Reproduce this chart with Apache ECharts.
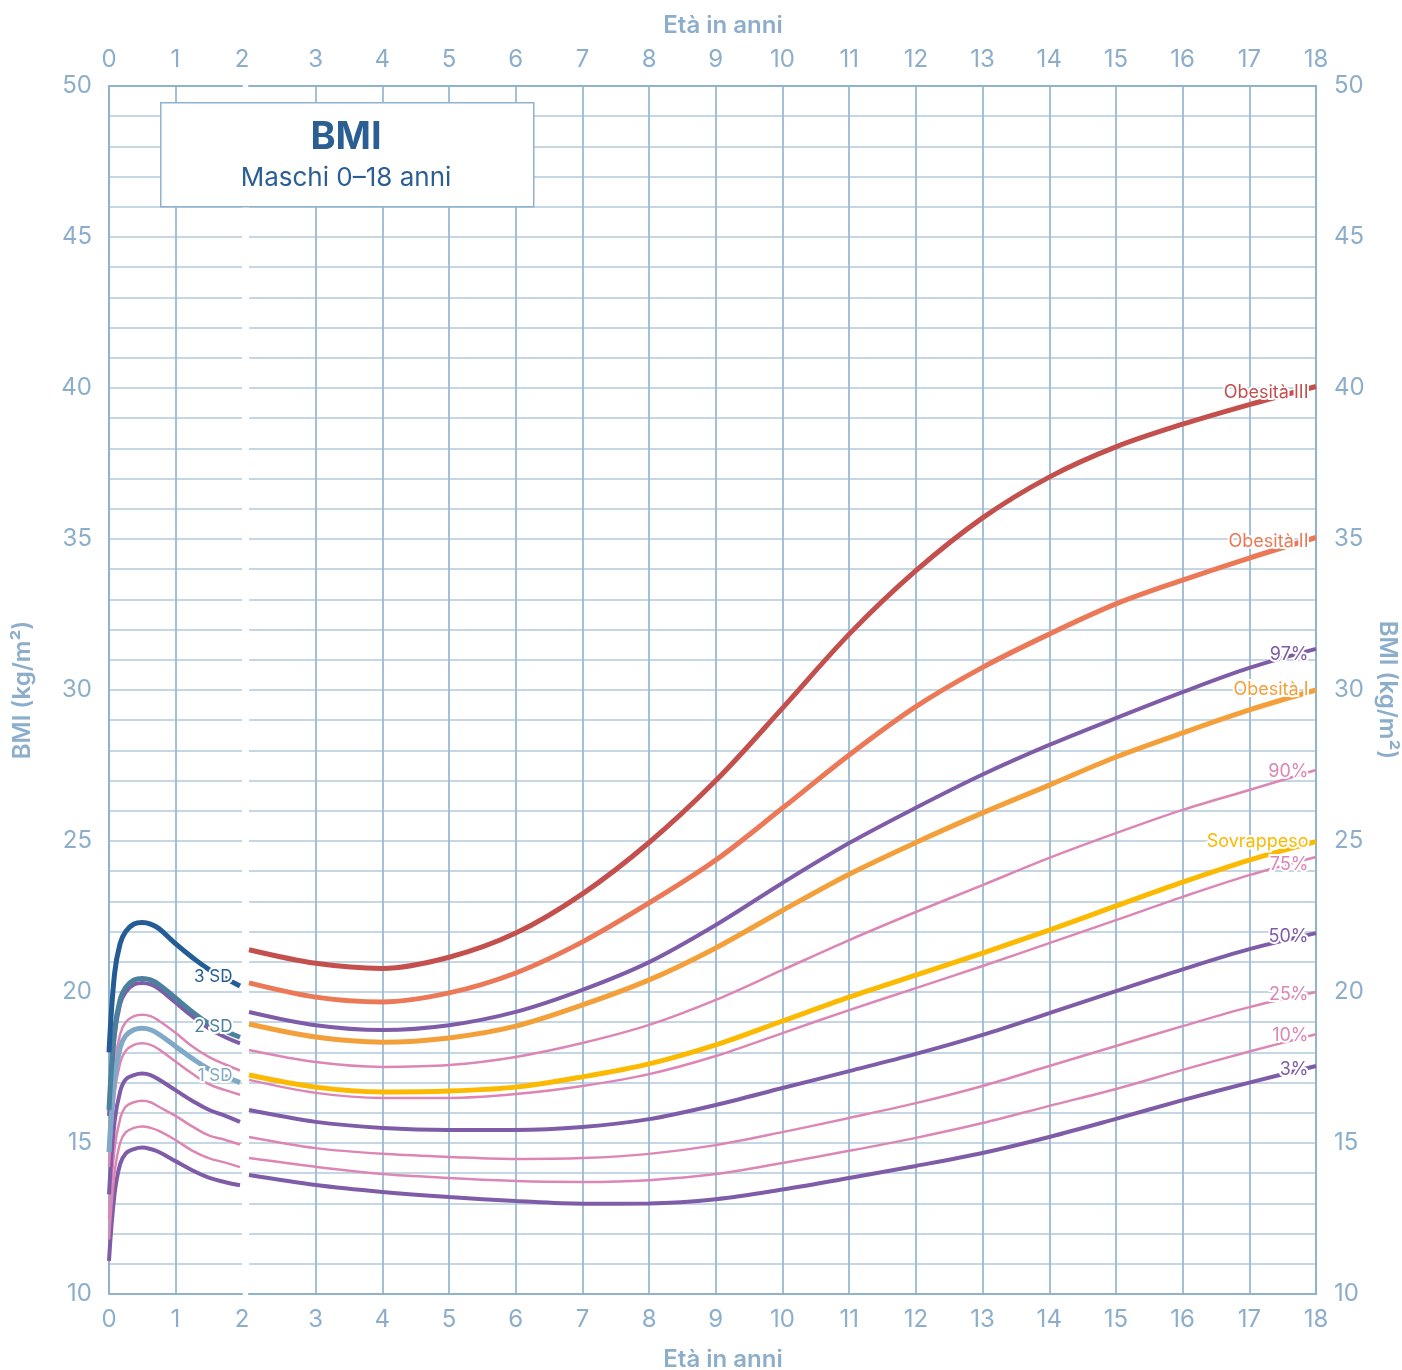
<!DOCTYPE html>
<html><head><meta charset="utf-8">
<script src="https://cdn.jsdelivr.net/npm/echarts@6/dist/echarts.min.js"></script>
<style>html,body{margin:0;padding:0;background:#fff;overflow:hidden}#c{width:1402px;height:1370px}</style>
</head><body><div id="c"></div>
<script>
// ---------- DATA ----------
// 0–2 years (WHO-style curves)
const agesInfant = [0, 0.083, 0.167, 0.25, 0.375, 0.5, 0.625, 0.75, 1, 1.25, 1.5, 1.75, 1.97];
const sd3Infant  = [18.0, 20.6, 21.6, 22.0, 22.25, 22.3, 22.25, 22.1, 21.6, 21.15, 20.75, 20.45, 20.2];
const sd2Infant  = [16.1, 18.7, 19.75, 20.15, 20.4, 20.45, 20.4, 20.25, 19.8, 19.35, 18.95, 18.7, 18.5];
const sd1Infant  = [14.7, 17.1, 18.15, 18.55, 18.75, 18.8, 18.75, 18.6, 18.2, 17.8, 17.45, 17.2, 17.0];
const p97Infant  = [15.9, 18.5, 19.6, 20.0, 20.25, 20.3, 20.25, 20.1, 19.65, 19.2, 18.8, 18.5, 18.3];
const p90Infant  = [15.2, 17.6, 18.6, 19.0, 19.2, 19.25, 19.2, 19.05, 18.65, 18.2, 17.85, 17.6, 17.4];
const p75Infant  = [14.2, 16.6, 17.65, 18.05, 18.25, 18.3, 18.25, 18.1, 17.7, 17.3, 16.95, 16.75, 16.6];
const p50Infant  = [13.3, 15.7, 16.7, 17.1, 17.25, 17.3, 17.25, 17.1, 16.75, 16.4, 16.1, 15.9, 15.7];
const p25Infant  = [12.5, 14.8, 15.8, 16.2, 16.35, 16.4, 16.35, 16.2, 15.9, 15.55, 15.25, 15.1, 14.95];
const p10Infant  = [11.8, 14.0, 15.0, 15.35, 15.5, 15.55, 15.5, 15.4, 15.1, 14.75, 14.5, 14.35, 14.2];
const p3Infant   = [11.1, 13.3, 14.3, 14.65, 14.8, 14.85, 14.8, 14.7, 14.4, 14.1, 13.85, 13.7, 13.6];

// 2–18 years
const agesChild   = [2, 3, 4, 5, 6, 7, 8, 9, 10, 11, 12, 13, 14, 15, 16, 17, 18];
const obesita3    = [21.4, 20.95, 20.78, 21.15, 21.95, 23.25, 24.95, 27.0, 29.4, 31.85, 33.95, 35.7, 37.05, 38.05, 38.8, 39.45, 40.05];
const obesita2    = [20.3, 19.83, 19.67, 19.97, 20.63, 21.66, 22.95, 24.37, 26.09, 27.85, 29.45, 30.75, 31.85, 32.85, 33.64, 34.37, 35.05];
const p97Child    = [19.34, 18.9, 18.74, 18.9, 19.34, 20.07, 20.99, 22.22, 23.61, 24.93, 26.1, 27.2, 28.18, 29.07, 29.93, 30.73, 31.36];
const obesita1    = [18.94, 18.51, 18.34, 18.48, 18.87, 19.57, 20.4, 21.46, 22.7, 23.9, 24.95, 25.93, 26.85, 27.78, 28.58, 29.34, 30.0];
const p90Child    = [18.08, 17.68, 17.52, 17.58, 17.85, 18.31, 18.91, 19.74, 20.73, 21.72, 22.65, 23.54, 24.44, 25.26, 26.03, 26.69, 27.35];
const sovrappeso  = [17.25, 16.85, 16.69, 16.72, 16.85, 17.19, 17.62, 18.25, 19.04, 19.83, 20.56, 21.29, 22.05, 22.85, 23.64, 24.37, 24.98];
const p75Child    = [17.09, 16.66, 16.49, 16.49, 16.62, 16.89, 17.28, 17.88, 18.64, 19.4, 20.13, 20.86, 21.62, 22.38, 23.15, 23.87, 24.47];
const p50Child    = [16.09, 15.7, 15.5, 15.43, 15.43, 15.53, 15.79, 16.26, 16.82, 17.38, 17.95, 18.58, 19.3, 20.03, 20.75, 21.42, 21.95];
const p25Child    = [15.2, 14.83, 14.64, 14.54, 14.47, 14.5, 14.64, 14.93, 15.36, 15.83, 16.32, 16.89, 17.55, 18.21, 18.87, 19.5, 20.0];
const p10Child    = [14.5, 14.21, 13.97, 13.84, 13.74, 13.71, 13.77, 13.97, 14.34, 14.74, 15.17, 15.66, 16.23, 16.79, 17.42, 18.03, 18.6];
const p3Child     = [13.94, 13.61, 13.38, 13.21, 13.08, 12.99, 13.0, 13.14, 13.46, 13.84, 14.24, 14.67, 15.2, 15.8, 16.42, 17.0, 17.55];

const yTicks = [10, 15, 20, 25, 30, 35, 40, 45, 50];
const xTicksInfant = [0, 1, 2];
const xTicksChild = [2, 3, 4, 5, 6, 7, 8, 9, 10, 11, 12, 13, 14, 15, 16, 17, 18];

// ---------- STYLE ----------
const FONT = 'Inter, "Noto Sans", sans-serif';
const AXC = '#8caecb';
const C = {
  red: '#c4504e', salmon: '#eb7857', orange: '#f3a03a', yellow: '#fbb900',
  purple: '#7e5ca7', pink: '#dc86b5', sd3: '#245d95', sd2: '#4b819f', sd1: '#80a9c7'
};

function mk(name, ages, vals, color, width, panel, label, lblOffset) {
  const data = vals.map((v, i) => {
    const item = { value: [ages[i], v] };
    if (label && i === vals.length - 1) {
      item.label = {
        show: true, formatter: label, position: 'left', distance: 7,
        offset: lblOffset || [0, 3],
        color: color, fontFamily: FONT, fontSize: panel === 0 ? 17 : 18,
        textBorderColor: '#fff', textBorderWidth: 4
      };
    }
    return item;
  });
  return {
    name: name, type: 'line', smooth: panel === 0 ? 0.4 : 0.33,
    symbol: 'circle', symbolSize: 1, showSymbol: true,
    xAxisIndex: panel === 0 ? 0 : 2, yAxisIndex: panel === 0 ? 0 : 1,
    data: data, lineStyle: { color: color, width: width },
    itemStyle: { color: 'rgba(0,0,0,0)', borderWidth: 0 },
    label: { show: false },
    emphasis: { disabled: true }, silent: true, z: 3
  };
}

const series = [
  // 0–2
  mk('3° pct (0–2)', agesInfant, p3Infant, C.purple, 4, 0),
  mk('10° pct (0–2)', agesInfant, p10Infant, C.pink, 2.5, 0),
  mk('25° pct (0–2)', agesInfant, p25Infant, C.pink, 2.5, 0),
  mk('50° pct (0–2)', agesInfant, p50Infant, C.purple, 4, 0),
  mk('75° pct (0–2)', agesInfant, p75Infant, C.pink, 2.5, 0),
  mk('90° pct (0–2)', agesInfant, p90Infant, C.pink, 2.5, 0),
  mk('97° pct (0–2)', agesInfant, p97Infant, C.purple, 4, 0),
  mk('1 SD', agesInfant, sd1Infant, C.sd1, 5, 0, '1 SD', [0, -7]),
  mk('2 SD', agesInfant, sd2Infant, C.sd2, 5, 0, '2 SD', [0, -10]),
  mk('3 SD', agesInfant, sd3Infant, C.sd3, 5, 0, '3 SD', [0, -9]),
  // 2–18
  mk('3%', agesChild, p3Child, C.purple, 4, 1, '3%', [0, 4]),
  mk('10%', agesChild, p10Child, C.pink, 2.5, 1, '10%', [0, 1]),
  mk('25%', agesChild, p25Child, C.pink, 2.5, 1, '25%', [0, 3]),
  mk('50%', agesChild, p50Child, C.purple, 4, 1, '50%', [0, 3]),
  mk('75%', agesChild, p75Child, C.pink, 2.5, 1, '75%', [0, 8]),
  mk('Sovrappeso', agesChild, sovrappeso, C.yellow, 5, 1, 'Sovrappeso', [0, 0]),
  mk('90%', agesChild, p90Child, C.pink, 2.5, 1, '90%', [0, 2]),
  mk('Obesità I', agesChild, obesita1, C.orange, 5, 1, 'Obesità I', [0, 0]),
  mk('97%', agesChild, p97Child, C.purple, 4, 1, '97%', [0, 6]),
  mk('Obesità II', agesChild, obesita2, C.salmon, 5, 1, 'Obesità II', [0, 4]),
  mk('Obesità III', agesChild, obesita3, C.red, 5, 1, 'Obesità III', [0, 6])
];

const vSplit = { show: true, showMinLine: false, showMaxLine: false, lineStyle: { color: '#9dbdd5', width: 1.5 } };
const hSplit = { show: true, lineStyle: { color: '#b2cadd', width: 1.5 } };
const axLine = { show: true, lineStyle: { color: '#8fb2cd', width: 2 } };
const lbl = { color: AXC, fontFamily: FONT, fontSize: 24 };
const nameStyle = { color: AXC, fontFamily: FONT, fontSize: 24, fontWeight: 600 };

function xAx(grid, pos, ticks, extra) {
  return Object.assign({
    type: 'value', gridIndex: grid, position: pos,
    min: ticks[0], max: ticks[ticks.length - 1], interval: 1,
    axisLine: axLine, axisTick: { show: false },
    axisLabel: Object.assign({ margin: 14 }, lbl),
    splitLine: vSplit
  }, extra || {});
}

const option = {
  backgroundColor: '#fff',
  animation: false,
  grid: [
    { left: 109, top: 86, width: 133, height: 1208, containLabel: false, outerBoundsMode: 'none' },
    { left: 249, top: 86, width: 1067, height: 1208, containLabel: false, outerBoundsMode: 'none' }
  ],
  xAxis: [
    xAx(0, 'bottom', xTicksInfant),
    xAx(0, 'top', xTicksInfant),
    xAx(1, 'bottom', xTicksChild, {
      axisLabel: Object.assign({ margin: 14, showMinLabel: false }, lbl),
      name: 'Età in anni', nameLocation: 'middle', nameGap: 54,
      nameTextStyle: Object.assign({ padding: [0, 119, 0, 0] }, nameStyle)
    }),
    xAx(1, 'top', xTicksChild, {
      axisLabel: Object.assign({ margin: 14, showMinLabel: false }, lbl),
      name: 'Età in anni', nameLocation: 'middle', nameGap: 48,
      nameTextStyle: Object.assign({ padding: [0, 119, 0, 0] }, nameStyle)
    })
  ],
  yAxis: [
    {
      type: 'value', gridIndex: 0, position: 'left',
      min: yTicks[0], max: yTicks[yTicks.length - 1], interval: 5,
      axisLine: axLine, axisTick: { show: false },
      axisLabel: Object.assign({ margin: 17 }, lbl),
      splitLine: hSplit,
      minorTick: { show: false, splitNumber: 5 },
      minorSplitLine: { show: true, lineStyle: { color: '#b2cadd', width: 1.5 } },
      name: 'BMI (kg/m²)', nameLocation: 'middle', nameGap: 74, nameRotate: 90,
      nameTextStyle: nameStyle
    },
    {
      type: 'value', gridIndex: 1, position: 'right',
      min: yTicks[0], max: yTicks[yTicks.length - 1], interval: 5,
      axisLine: axLine, axisTick: { show: false },
      axisLabel: Object.assign({ margin: 18 }, lbl),
      splitLine: hSplit,
      minorTick: { show: false, splitNumber: 5 },
      minorSplitLine: { show: true, lineStyle: { color: '#b2cadd', width: 1.5 } },
      name: 'BMI (kg/m²)', nameLocation: 'middle', nameGap: 58, nameRotate: -90,
      nameTextStyle: nameStyle
    }
  ],
  graphic: [
    { type: 'rect', left: 160, top: 102, z: 100, zlevel: 0,
      shape: { x: 0, y: 0, width: 373, height: 104 },
      style: { fill: '#ffffff', stroke: '#8fb2cd', lineWidth: 1.5 } },
    { type: 'text', x: 346, y: 138, z: 101,
      style: { text: 'BMI', fill: '#2b5f94', font: '700 38px ' + FONT, textAlign: 'center', textVerticalAlign: 'middle' } },
    { type: 'text', x: 346, y: 178, z: 101,
      style: { text: 'Maschi 0–18 anni', fill: '#2b5f94', font: '400 26px ' + FONT, textAlign: 'center', textVerticalAlign: 'middle' } }
  ],
  series: series
};

const chart = echarts.init(document.getElementById('c'), null, { renderer: 'canvas', width: 1402, height: 1370 });
chart.setOption(option);
</script>
</body></html>
